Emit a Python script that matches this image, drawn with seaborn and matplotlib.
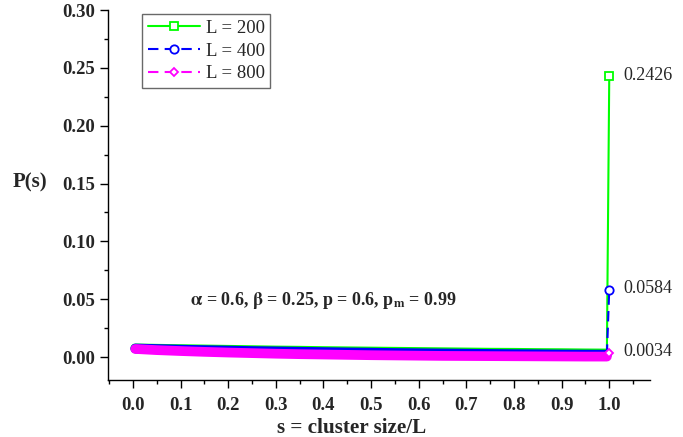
import numpy as np
import pandas as pd
import matplotlib
matplotlib.use("Agg")
import matplotlib.pyplot as plt
import seaborn as sns
from matplotlib.ticker import MultipleLocator

sns.set_theme(style="ticks")
plt.rcParams['font.family'] = ['Liberation Serif', 'DejaVu Serif']
plt.rcParams['mathtext.fontset'] = 'stix'

s_vals = [0.005, 0.05, 0.1, 0.15, 0.2, 0.25, 0.3, 0.35, 0.4, 0.45, 0.5, 0.55, 0.6,
          0.65, 0.7, 0.75, 0.8, 0.85, 0.9, 0.95, 0.995, 1.0]
p200 = [0.0075, 0.0072, 0.0069, 0.0066, 0.0063, 0.0060, 0.0057, 0.0055, 0.0052, 0.0050,
        0.0048, 0.0046, 0.0044, 0.0042, 0.0040, 0.0038, 0.0037, 0.0035, 0.0034, 0.0032, 0.0031, 0.2426]
p400 = [0.0074, 0.0069, 0.0064, 0.0060, 0.0056, 0.0052, 0.0049, 0.0046, 0.0043, 0.0040,
        0.0038, 0.0035, 0.0033, 0.0031, 0.0029, 0.0027, 0.0025, 0.0024, 0.0022, 0.0021, 0.0020, 0.0584]
p800 = [0.0070, 0.0060, 0.0052, 0.0045, 0.0039, 0.0034, 0.0029, 0.0025, 0.0022, 0.0019,
        0.0016, 0.0014, 0.0012, 0.0010, 0.0009, 0.0008, 0.0007, 0.0006, 0.0005, 0.0004, 0.0004, 0.0034]
labels = ["L = 200", "L = 400", "L = 800"]
end_labels = ["0.2426", "0.0584", "0.0034"]
colors = ["#00ff00", "#0000ff", "#ff00ff"]

fig = plt.figure(figsize=(6.83, 4.37), dpi=100)
ax = fig.add_axes([0.158, 0.130, 0.794, 0.847])

series = [p200, p400, p800]
markers = ["s", "o", "D"]
msizes = [6, 6, 4]
styles = ["-", (0, (5, 3)), (0, (5, 3))]
handles = []
for vals, lab, col, mk, ms, ls in zip(series, labels, colors, markers, msizes, styles):
    df = pd.DataFrame({"s": s_vals, "P": vals})
    # thick band formed by the dense markers
    sns.lineplot(data=df.iloc[:-1], x="s", y="P", ax=ax, color=col, lw=7,
                 solid_capstyle="round", legend=False)
    sns.lineplot(data=df.iloc[-2:], x="s", y="P", ax=ax, color=col, lw=1.5,
                 linestyle=ls, legend=False)
    ax.plot(s_vals[-1], vals[-1], marker=mk, ms=ms, mfc="white", mec=col, mew=1.3,
            linestyle="none")
    h, = ax.plot([], [], color=col, lw=1.5, linestyle=ls, marker=mk, ms=ms,
                 mfc="white", mec=col, mew=1.3, label=lab)
    handles.append(h)

for vals, t in zip(series, end_labels):
    ax.annotate(t, (s_vals[-1], vals[-1]), xytext=(10, 1), textcoords="offset points",
                fontsize=13, va="center", ha="left")

ax.text(0.12, 0.049, r"$\mathbf{\alpha}$ = 0.6, $\mathbf{\beta}$ = 0.25, p = 0.6, p$_\mathbf{m}$ = 0.99",
        fontsize=13, fontweight="bold", ha="left", va="center")

ax.set_xlim(-0.0525, 1.086)
ax.set_ylim(-0.02, 0.30)
ax.xaxis.set_minor_locator(MultipleLocator(0.05))
ax.yaxis.set_minor_locator(MultipleLocator(0.025))
ax.set_xticks(np.arange(0, 1.01, 0.1))
ax.set_xticklabels([f"{v:.1f}" for v in np.arange(0, 1.01, 0.1)])
ax.set_yticks(np.arange(0, 0.301, 0.05))
ax.set_yticklabels([f"{v:.2f}" for v in np.arange(0, 0.301, 0.05)])
ax.tick_params(which="major", length=6, width=1.0, direction="out", labelsize=13.5,
               color="black")
ax.tick_params(which="minor", length=3.2, width=1.0, direction="out", color="black")
ax.tick_params(axis="x", which="major", pad=6)
for lab in ax.get_xticklabels() + ax.get_yticklabels():
    lab.set_fontweight("bold")
ax.spines["top"].set_visible(False)
ax.spines["right"].set_visible(False)
for sp in ["left", "bottom"]:
    ax.spines[sp].set_linewidth(1.0)
    ax.spines[sp].set_color("black")

ax.set_xlabel("s = cluster size/L", fontsize=15.2, fontweight="bold", va="center")
ax.xaxis.set_label_coords(0.45, -0.13)
ax.set_ylabel("P(s)", fontsize=15, fontweight="bold", rotation=0, va="center", ha="center")
ax.yaxis.set_label_coords(-0.144, 0.535)

leg = ax.legend(handles=handles, loc="upper left", bbox_to_anchor=(142 / 683, 1 - 14 / 437),
                bbox_transform=fig.transFigure, borderaxespad=0,
                fontsize=13.5, frameon=True, fancybox=False, edgecolor="#444444",
                handlelength=2.8, handletextpad=0.3, borderpad=0.3, labelspacing=0.3)
leg.get_frame().set_linewidth(1.0)

fig.savefig("out.png", dpi=100)
